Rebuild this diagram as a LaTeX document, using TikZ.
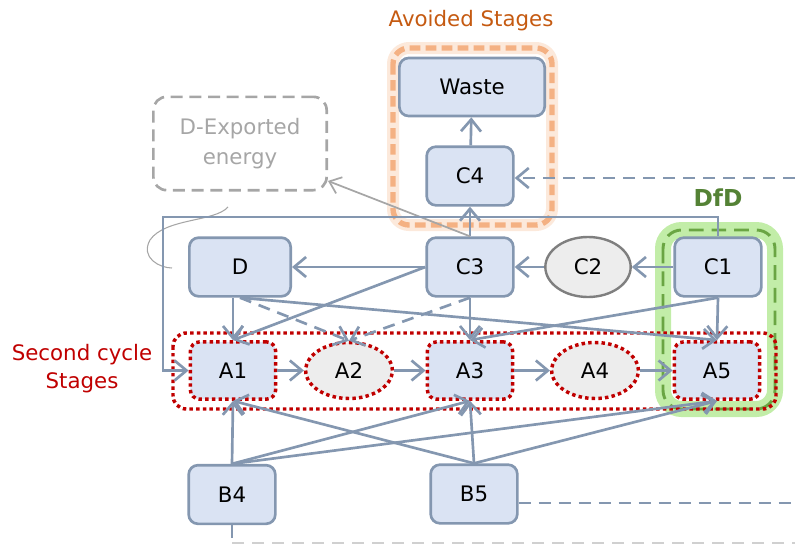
\documentclass[tikz,border=0pt]{standalone}
\usepackage{fontspec}
\setmainfont{DejaVu Sans}
\usetikzlibrary{arrows.meta,shapes.geometric,calc}
\definecolor{lc}{HTML}{8497B0}
\definecolor{bf}{HTML}{DAE3F3}
\definecolor{gf}{HTML}{EDEDED}
\definecolor{gb}{HTML}{7F7F7F}
\definecolor{rd}{HTML}{C00000}
\definecolor{ort}{HTML}{C55A11}
\definecolor{ord}{HTML}{F4B183}
\definecolor{org}{HTML}{FBE3D2}
\definecolor{grt}{HTML}{548235}
\definecolor{grd}{HTML}{6AA543}
\definecolor{grg}{HTML}{C2EDA8}
\definecolor{gy}{HTML}{A6A6A6}
\definecolor{lgy}{HTML}{D0D0D0}
\tikzset{
  box/.style={draw=lc, fill=bf, line width=2pt, rounded corners=7pt, minimum width=65pt, minimum height=44pt, inner sep=0pt},
  ell/.style={ellipse, draw=gb, fill=gf, line width=1.8pt, minimum width=64pt, minimum height=45pt, inner sep=0pt},
  reddot/.style={draw=rd, line width=2.6pt, dash pattern=on 2.6pt off 2.4pt},
  abox/.style={reddot, fill=bf, rounded corners=7pt, minimum width=64pt, minimum height=43pt, inner sep=0pt},
  aell/.style={ellipse, reddot, fill=gf, minimum width=65pt, minimum height=42pt, inner sep=0pt},
  conn/.style={draw=lc, line width=2pt, -{Straight Barb[length=9pt,width=15pt]}},
  dconn/.style={conn, dash pattern=on 9pt off 6pt},
  dline/.style={draw=lc, line width=2pt, dash pattern=on 9pt off 6pt},
  gconn/.style={draw=gy, line width=1.3pt, -{Straight Barb[length=8pt,width=13pt]}}
}
\begin{document}
\begin{tikzpicture}[x=0.75pt,y=-0.75pt, font=\fontsize{16}{19}\selectfont]
\useasboundingbox (0,0) rectangle (795,546);

% group outlines
\draw[org, line width=9pt, rounded corners=12pt, opacity=0.8] (393,48) rectangle (552,225);
\draw[ord, line width=4pt, rounded corners=12pt, dash pattern=on 8pt off 4pt] (393,48) rectangle (552,225);
\draw[grg, line width=12pt, rounded corners=14pt] (663,230) rectangle (775,409);
\draw[grd, line width=2.2pt, rounded corners=14pt, dash pattern=on 11pt off 6pt] (663,230) rectangle (775,409);
\draw[reddot, rounded corners=10pt] (173,333) rectangle (776,409);

% labels
\node[text=ort] (lavoid) at (471,21) {Avoided Stages};
\node[text=grt, font=\fontsize{17.5}{20}\selectfont\bfseries] (ldfd) at (718,198) {DfD};
\node[text=rd, align=center, font=\fontsize{16}{21}\selectfont] (lsec) at (82,369) {Second cycle\\Stages};

% nodes
\node[box, minimum width=109pt, minimum height=43.5pt] (waste) at (472,87) {Waste};
\node[box] (c4) at (470,176) {C4};
\node[box] (c3) at (470,267) {C3};
\node[ell] (c2) at (588,267) {C2};
\node[box] (c1) at (718,267) {C1};
\node[box, minimum width=76pt] (d) at (240,267) {D};
\node[abox] (a1) at (233,370.5) {A1};
\node[aell] (a2) at (349,370.5) {A2};
\node[abox] (a3) at (470,370.5) {A3};
\node[aell] (a4) at (595,370.5) {A4};
\node[abox] (a5) at (717,370.5) {A5};
\node[box] (b4) at (232,494.5) {B4};
\node[box] (b5) at (474,494) {B5};
\node[draw=gy, line width=2pt, dash pattern=on 9pt off 5pt, rounded corners=10pt, minimum width=130pt, minimum height=70pt, text=gy, align=center, font=\fontsize{16}{22}\selectfont] (dx) at (240,143.5) {D-Exported\\energy};

% free ends
\coordinate (lt) at (163,217);
\coordinate (r1) at (795,178);
\coordinate (r2) at (795,503);
\coordinate (bl) at (232,543);
\coordinate (br) at (795,543);

% connectors
\draw[conn] (c4) -- (waste);
\draw[conn] (c3) -- (c4);
\draw[conn] (c2) -- (c3);
\draw[conn] (c1) -- (c2);
\draw[conn] (c3) -- (d);
\draw[dconn] (r1) -- (c4.east |- r1);
\draw[dline] (b5.east |- r2) -- (r2);
\draw[draw=lgy, line width=1.6pt, dash pattern=on 9pt off 6pt] (bl) -- (br);
\draw[draw=lc, line width=2pt] (b4.south) -- ($(b4.south)+(0,13)$);
\draw[gconn] (c3.north) -- ($(dx.east)!0.78!(dx.south east)$);
\draw[gy, line width=0.8pt] (228,207) .. controls (215,222) and (165,218) .. (150,240) .. controls (140,258) and (160,268) .. (172,268);
\draw[conn] (c1.north) -- (c1.north |- lt) -- (lt) -- (lt |- a1.west) -- (a1.west);

\draw[conn] (a1.north |- d.south) -- (a1.north);
\draw[conn] (c3.west) -- (a1.north);
\draw[dconn] (d.south) -- (a2.north);
\draw[conn] (d.south) -- (a5.north);
\draw[dconn] (c3.south) -- (a2.north);
\draw[conn] (c3.south) -- (a3.north);
\draw[conn] (c1.south) -- (a3.north);
\draw[conn] (c1.south) -- (a5.north);

\draw[conn] (a1) -- (a2);
\draw[conn] (a2) -- (a3);
\draw[conn] (a3) -- (a4);
\draw[conn] (a4) -- (a5);

\draw[conn] (b4.north) -- (a1.south);
\draw[conn] (b4.north) -- (a3.south);
\draw[conn] (b4.north) -- (a5.south);
\draw[conn] (b5.north) -- (a1.south);
\draw[conn] (b5.north) -- (a3.south);
\draw[conn] (b5.north) -- (a5.south);
\end{tikzpicture}
\end{document}
